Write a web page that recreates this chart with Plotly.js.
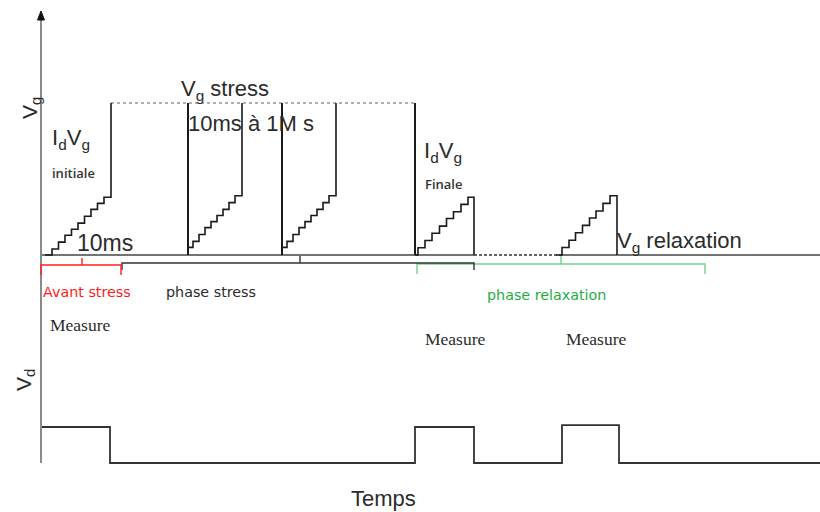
<!DOCTYPE html>
<html>
<head>
<meta charset="utf-8">
<script src="https://cdn.plot.ly/plotly-3.0.1.min.js"></script>
<style>html,body{margin:0;padding:0;background:#fff}#chart{width:820px;height:512px}</style>
</head>
<body>
<div id="chart"></div>
<script>
// ---- Data (time in arbitrary units, Vg normalised to stress level = 1, Vd normalised to pulse = 1) ----
const timeInit    = [45, 52, 58.5, 65, 71.5, 78, 84.5, 91, 97.5, 104, 111];
const vgInit      = [0, 0.04, 0.085, 0.13, 0.17, 0.21, 0.255, 0.30, 0.34, 0.38, 1];

const timeStress1 = [188, 193, 199, 205, 211, 217, 223, 229, 235, 242];
const timeStress2 = [282, 287, 293, 299, 305, 311, 317, 323, 329, 336];
const vgStress    = [0.05, 0.09, 0.135, 0.18, 0.22, 0.26, 0.30, 0.345, 0.39, 1];
const stressEdgeTimes = [188, 282, 415];
const stressLevelTime = [111, 415];
const stressLevel     = [1, 1];

const timeFinal   = [415, 418, 425, 432, 439.5, 446.5, 453.5, 461, 468, 474];
const vgFinal     = [0, 0.048, 0.095, 0.143, 0.19, 0.24, 0.285, 0.333, 0.38, 0];

const timeRelax   = [556, 562, 569, 575.5, 582.5, 589.5, 596, 603, 610, 617];
const vgRelax     = [0, 0.049, 0.097, 0.146, 0.195, 0.244, 0.29, 0.34, 0.39, 0];

const timeBaseA   = [41, 474];
const timeBaseGap = [474, 562];
const timeBaseB   = [562, 820];
const vgBase      = [0, 0];

const timeVd      = [41, 41, 110, 110, 415, 415, 474, 474, 562, 562, 619, 619, 820];
const vd          = [0, 1, 1, 0, 0, 1, 1, 0, 0, 1.05, 1.05, 0, 0];

// ---- Helpers ----
const W = 820, H = 512;
const py = y => 1 - y / H;
const ink = '#1a1a1a';
const txt = '#2b2b2b';

const traces = [];
function line(x, y, opts) {
  traces.push(Object.assign({
    type: 'scatter', mode: 'lines', x: x, y: y, hoverinfo: 'skip',
    line: Object.assign({color: ink, width: 1.6}, opts.line || {})
  }, opts.extra || {}));
}
line(timeBaseA, vgBase, {line: {color: '#444', width: 1.5}});
line(timeBaseGap, vgBase, {line: {color: '#333', width: 1.4, dash: '3px,2px'}});
line(timeBaseB, vgBase, {line: {color: '#444', width: 1.5}});
line(stressLevelTime, stressLevel, {line: {color: '#b0b0b0', width: 2, dash: 'dot'}});
line(timeInit, vgInit, {line: {shape: 'hv'}});
line(timeStress1, vgStress, {line: {shape: 'hv'}});
line(timeStress2, vgStress, {line: {shape: 'hv'}});
stressEdgeTimes.forEach(t => line([t, t], [0, 1], {line: {width: 2}}));
line(timeFinal, vgFinal, {line: {shape: 'hv'}});
line(timeRelax, vgRelax, {line: {shape: 'hv'}});
line(timeVd, vd, {line: {color: '#333', width: 1.8}, extra: {yaxis: 'y2'}});

function bracket(x0, xm, x1, yl, ytop, yend, color) {
  return {type: 'path', xref: 'x', yref: 'paper',
    path: `M ${x0},${py(yend)} L ${x0},${py(yl)} L ${xm},${py(yl)} L ${xm},${py(ytop)} L ${xm},${py(yl)} L ${x1},${py(yl)} L ${x1},${py(yend)}`,
    line: {color: color, width: 1.4}};
}

const shapes = [
  {type: 'line', xref: 'x', yref: 'paper', x0: 41, x1: 41, y0: py(16), y1: py(463), line: {color: '#8a8a8a', width: 2}},
  {type: 'path', xref: 'x', yref: 'paper', path: `M 37.5,${py(20)} L 41,${py(11)} L 44.5,${py(20)} Z`, fillcolor: '#111', line: {color: '#111', width: 1}},
  bracket(417, 561, 705, 264, 256, 274, '#6fd38f'),
  bracket(122, 300, 474, 263, 256, 270, '#333'),
  bracket(41, 82, 121, 265, 258, 275, '#ff2020')
];

function ann(text, x, y, size, family, color, extra) {
  return Object.assign({text: text, xref: 'paper', yref: 'paper', x: x / W, y: py(y),
    xanchor: 'left', yanchor: 'middle', showarrow: false,
    font: Object.assign({size: size, family: family, color: color || txt}, (extra && extra.fontx) || {})}, extra || {});
}
const sans = 'Liberation Sans, Arial, sans-serif';
const small = 'Open Sans, sans-serif';
const mid = 'DejaVu Sans, sans-serif';
const serif = 'Liberation Serif, Times New Roman, serif';

const annotations = [
  ann('V<sub>g</sub> stress', 179, 90, 22, sans),
  ann('10ms à 1M s', 186, 123, 22, sans),
  ann('I<sub>d</sub>V<sub>g</sub>', 50, 139, 22, sans),
  ann('initiale', 50, 173, 13, small, '#333', {fontx: {weight: 600}}),
  ann('10ms', 75, 243, 23, sans),
  ann('I<sub>d</sub>V<sub>g</sub>', 422, 152, 22, sans),
  ann('Finale', 423, 184, 13, small, '#333', {fontx: {weight: 600}}),
  ann('V<sub>g</sub> relaxation', 615, 242, 22, sans),
  ann('Avant stress', 41, 292, 14.3, mid, '#ff1a1a'),
  ann('phase stress', 164, 292, 14.3, mid),
  ann('phase relaxation', 485, 295, 14.3, mid, '#1fae45'),
  ann('Measure', 48, 325, 17.5, serif),
  ann('Measure', 423, 339, 17.5, serif),
  ann('Measure', 564, 339, 17.5, serif),
  ann('Temps', 383, 498, 22, sans, txt, {xanchor: 'center'}),
  ann('V<sub>g</sub>', 31, 108, 21, sans, txt, {xanchor: 'center', textangle: -90}),
  ann('V<sub>d</sub>', 25, 380, 21, sans, txt, {xanchor: 'center', textangle: -90})
];
annotations.forEach(a => delete a.fontx);

const layout = {
  width: W, height: H, margin: {l: 0, r: 0, t: 0, b: 0},
  paper_bgcolor: '#fff', plot_bgcolor: '#fff', showlegend: false,
  xaxis: {range: [0, 820], visible: false, fixedrange: true},
  yaxis: {range: [-1.691, 1.678], visible: false, fixedrange: true},
  yaxis2: {range: [-1.361, 12.861], visible: false, overlaying: 'y', fixedrange: true},
  shapes: shapes, annotations: annotations
};
Plotly.newPlot('chart', traces, layout, {displayModeBar: false, staticPlot: true});
</script>
</body>
</html>
